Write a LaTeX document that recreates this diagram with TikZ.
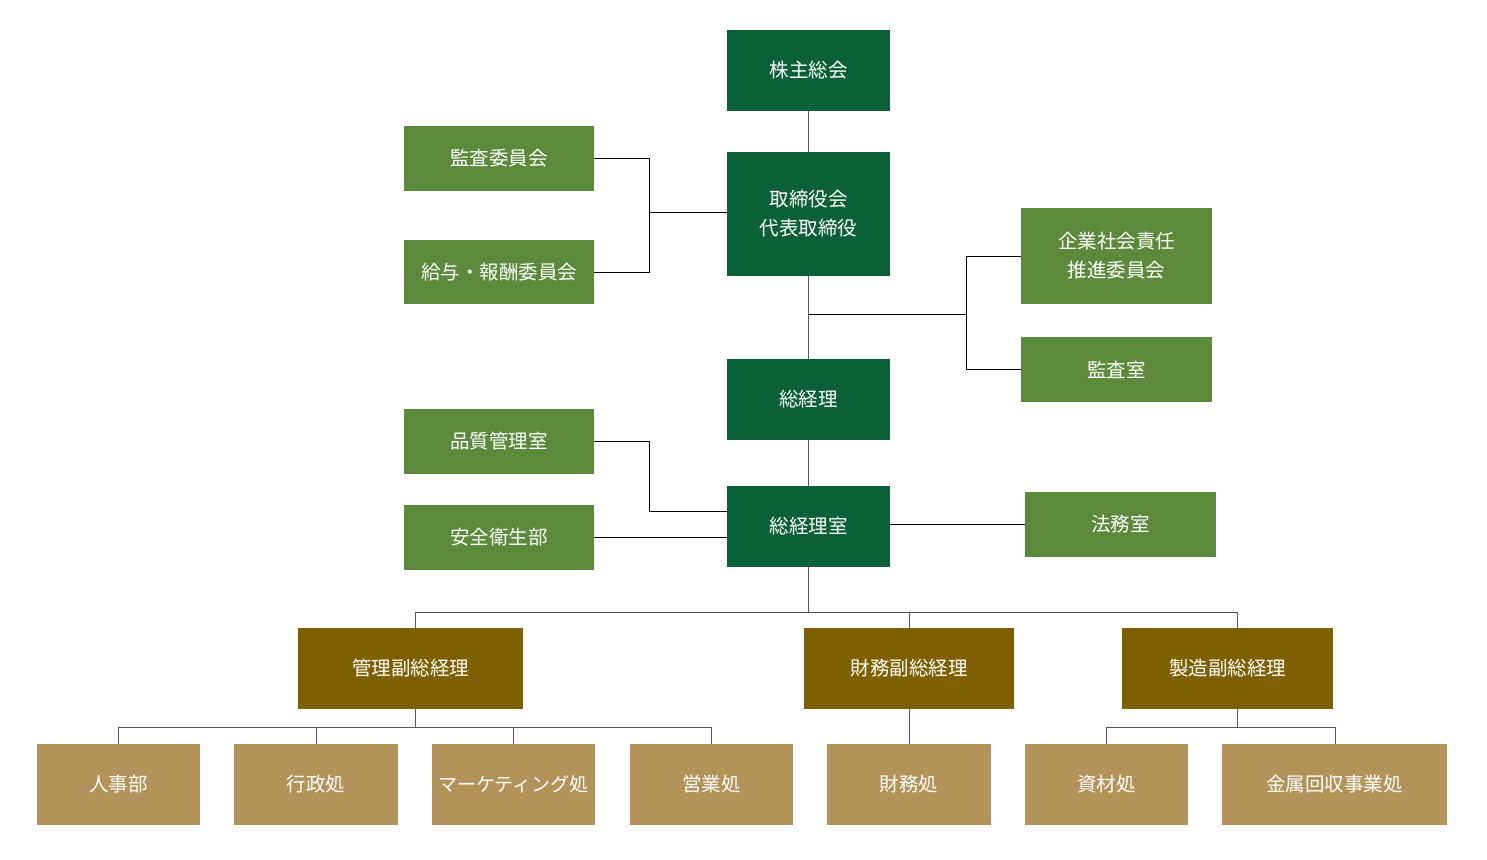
\documentclass[tikz,border=0pt]{standalone}
\usepackage{fontspec}
\setmainfont{Noto Sans CJK JP}
\definecolor{dkgreen}{HTML}{0B6135}
\definecolor{mdgreen}{HTML}{5A8A3A}
\definecolor{brownbox}{HTML}{7F6000}
\definecolor{tanbox}{HTML}{B39359}
\definecolor{linegray}{HTML}{4E5A66}
\begin{document}
\begin{tikzpicture}[x=1pt,y=-1pt,
  box/.style={draw=none,inner sep=0pt,outer sep=0pt,text=white,align=center,font=\fontsize{19.5}{29}\selectfont},
  dk/.style={box,fill=dkgreen,minimum width=163pt,minimum height=81pt},
  md/.style={box,fill=mdgreen,minimum width=190pt,minimum height=65pt},
  br/.style={box,fill=brownbox,minimum height=81pt},
  tn/.style={box,fill=tanbox,minimum width=163pt,minimum height=81pt},
  blk/.style={draw=black,line width=1pt},
  gry/.style={draw=linegray,line width=1pt}]
\useasboundingbox (0,0) rectangle (1487,859);
\fill[white] (0,0) rectangle (1487,859);
% dark green
\node[dk] (shr) at (808.5,70.5) {株主総会};
\node[dk,minimum height=124pt] (brd) at (808.5,214) {取締役会\\代表取締役};
\node[dk] (gm) at (808.5,399.5) {総経理};
\node[dk] (gmo) at (808.5,526.5) {総経理室};
% medium green
\node[md] (aud) at (499,158.5) {監査委員会};
\node[md,minimum height=64pt] (pay) at (499,272) {給与・報酬委員会};
\node[md,minimum width=191pt,minimum height=96pt] (csr) at (1116.5,256) {企業社会責任\\推進委員会};
\node[md,minimum width=191pt] (aro) at (1116.5,369.5) {監査室};
\node[md] (qc) at (499,441.5) {品質管理室};
\node[md] (saf) at (499,537.5) {安全衛生部};
\node[md,minimum width=191pt] (law) at (1120.5,524.5) {法務室};
% brown
\node[br,minimum width=225pt] (vpa) at (410.5,668.5) {管理副総経理};
\node[br,minimum width=210pt] (vpf) at (909,668.5) {財務副総経理};
\node[br,minimum width=211pt] (vpm) at (1227.5,668.5) {製造副総経理};
% tan
\node[tn] (hr) at (118.5,784.5) {人事部};
\node[tn,minimum width=164pt] (adm) at (316,784.5) {行政処};
\node[tn] (mkt) at (513.5,784.5) {\fontsize{19}{29}\selectfont マーケティング処};
\node[tn] (sal) at (711.5,784.5) {営業処};
\node[tn,minimum width=164pt] (fin) at (909,784.5) {財務処};
\node[tn] (mat) at (1106.5,784.5) {資材処};
\node[tn,minimum width=225pt] (met) at (1334.5,784.5) {金属回収事業処};
% coordinates
\coordinate (j1) at (649,212.5);
\coordinate (j2) at (808.5,314);
\coordinate (j3) at (966,314);
\coordinate (j4) at (808.5,612);
\coordinate (j5) at (415,727);
\coordinate (j6) at (1237,727);
% main spine
\draw[gry] (shr.south) -- (brd.north);
\draw[gry] (brd.south) -- (gm.north);
\draw[gry] (gm.south) -- (gmo.north);
\draw[gry] (gmo.south) -- (j4);
% committees
\draw[blk] (aud.east) -| (j1) |- (pay.east);
\draw[blk] (j1) -- (brd.west |- j1);
% csr branch
\draw[blk] (j2) -- (j3);
\draw[blk] (csr.west) -| (j3) |- (aro.west);
% quality/safety
\draw[blk] (qc.east) -| (649,511) -- (gmo.west |- 0,511);
\draw[blk] (saf.east) -- (gmo.west |- saf.east);
\draw[blk] (gmo.east |- law.west) -- (law.west);
% VP bar
\draw[gry] (415,628) |- (1237,612) -- (1237,628);
\draw[gry] (vpf.north) -- (vpf.north |- j4);
% admin VP
\draw[gry] (415,709) -- (j5);
\draw[gry] (hr.north) |- (sal.north |- j5) -- (sal.north);
\draw[gry] (adm.north) -- (adm.north |- j5);
\draw[gry] (mkt.north) -- (mkt.north |- j5);
% finance VP
\draw[gry] (vpf.south) -- (fin.north);
% manufacturing VP
\draw[gry] (1237,709) -- (j6);
\draw[gry] (mat.north) |- (1335,727) -- (1335,744);
\end{tikzpicture}
\end{document}
